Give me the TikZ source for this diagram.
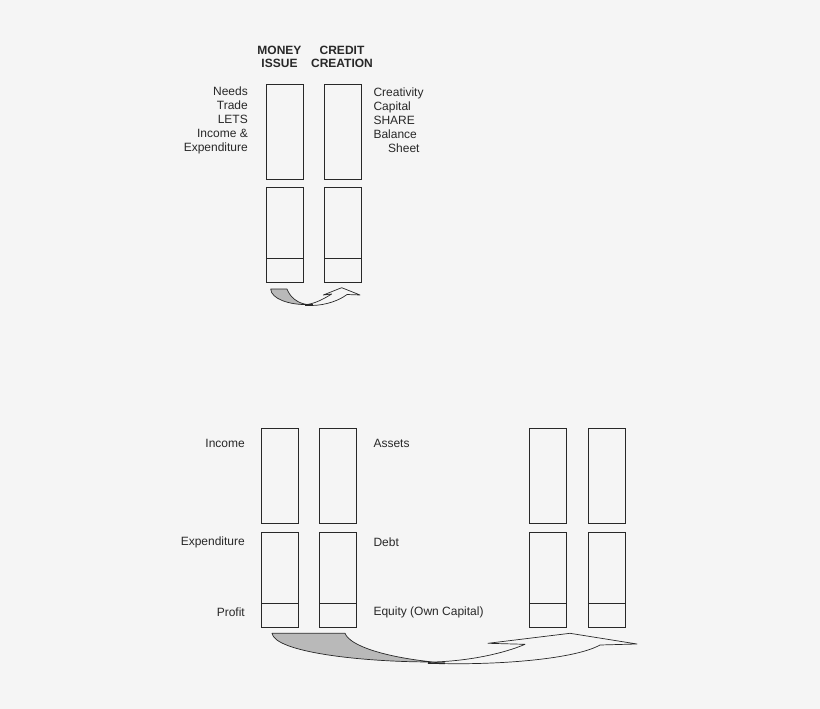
\documentclass[tikz,border=0pt]{standalone}
\usepackage{fontspec}
\setmainfont{Liberation Sans}
\definecolor{bg}{RGB}{245,245,245}
\definecolor{ink}{RGB}{40,40,40}
\definecolor{shade}{RGB}{185,185,185}
\begin{document}
\begin{tikzpicture}[x=1pt,y=-1pt,
  acct/.style={draw=ink,line width=0.8pt,minimum width=37pt,minimum height=95pt,inner sep=0pt},
  lbl/.style={font=\fontsize{12}{14}\selectfont,text=ink,inner sep=0pt},
  hdr/.style={font=\fontsize{12}{13}\selectfont\bfseries,text=ink,inner sep=0pt,align=center},
  ribbon/.style={draw=ink,line width=0.7pt,line join=round}]
\fill[bg] (0,0) rectangle (820,709);
\useasboundingbox (0,0) rectangle (820,709);
% ---------- top diagram ----------
\node[hdr] (h1) at (279.5,56.5) {MONEY\\ISSUE};
\node[hdr] (h2) at (342,56.5) {CREDIT\\CREATION};
\node[acct] (ta1) at (285.3,131.5) {};
\node[acct] (tb1) at (343.2,131.5) {};
\node[acct] (ta2) at (285.3,235) {};
\node[acct] (tb2) at (343.2,235) {};
\draw[ink,line width=0.8pt] ([yshift=25pt]ta2.south west) -- ([yshift=25pt]ta2.south east);
\draw[ink,line width=0.8pt] ([yshift=25pt]tb2.south west) -- ([yshift=25pt]tb2.south east);
\node[lbl,align=right,anchor=east] (tl) at (248,120.3) {Needs\\Trade\\LETS\\Income \&\\Expenditure};
\node[lbl,align=left,anchor=west] (tr) at (373.3,113.3) {Creativity\\Capital\\SHARE\\Balance};
\node[lbl,anchor=west] (trs) at (388,148.3) {Sheet};
% top ribbon arrow
\filldraw[ribbon,fill=shade] (270.7,289) -- (287,289)
  .. controls (290,297) and (297,303) .. (307,304.5)
  .. controls (290,305) and (271,299) .. cycle;
\filldraw[ribbon,fill=bg] (307,304.5)
  .. controls (317,303) and (325,298) .. (331.7,294)
  -- (323.3,295) -- (341.7,287.7) -- (360,295) -- (347,294.5)
  .. controls (340,300) and (326,305.5) .. (311,305.5) -- cycle;
\draw[ink,line width=1.6pt] (305,305) -- (313,305);
% ---------- bottom diagram ----------
\node[acct] (ba1) at (280.3,476.3) {};
\node[acct] (bb1) at (338.3,476.3) {};
\node[acct] (ba2) at (280.3,580) {};
\node[acct] (bb2) at (338.3,580) {};
\node[acct] (bc1) at (548,476.3) {};
\node[acct] (bd1) at (606.7,476.3) {};
\node[acct] (bc2) at (548,580) {};
\node[acct] (bd2) at (606.7,580) {};
\foreach \n in {ba2,bb2,bc2,bd2}
  \draw[ink,line width=0.8pt] ([yshift=25pt]\n.south west) -- ([yshift=25pt]\n.south east);
\node[lbl,anchor=east] (li) at (245,443) {Income};
\node[lbl,anchor=east] (le) at (245,542) {Expenditure};
\node[lbl,anchor=east] (lp) at (245,612) {Profit};
\node[lbl,anchor=west] (ra) at (373.3,443) {Assets};
\node[lbl,anchor=west] (rd) at (373.3,542) {Debt};
\node[lbl,anchor=west] (re) at (373.3,612) {Equity (Own Capital)};
% bottom ribbon arrow
\filldraw[ribbon,fill=shade] (272,633.3) -- (345,633.3)
  .. controls (350,646) and (385,657) .. (433,662)
  .. controls (360,662) and (275,652) .. cycle;
\filldraw[ribbon,fill=bg] (433,662)
  .. controls (470,661) and (505,653) .. (525,644.3)
  -- (488,643.3) -- (570,633.3) -- (637,644) -- (600,645)
  .. controls (575,659) and (500,665) .. (440,663.5) -- cycle;
\draw[ink,line width=1.6pt] (428,663) -- (445,663.3);
\end{tikzpicture}
\end{document}
